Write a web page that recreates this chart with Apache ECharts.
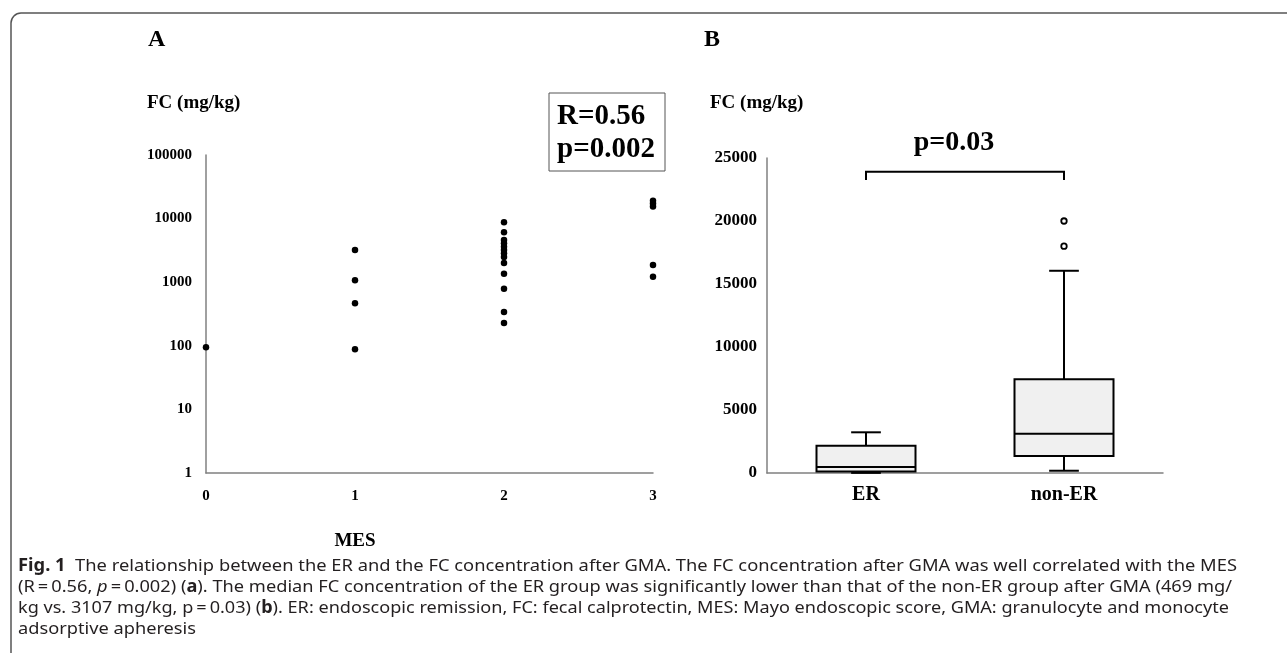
<!DOCTYPE html>
<html>
<head>
<meta charset="utf-8">
<script src="https://cdn.jsdelivr.net/npm/echarts@6/dist/echarts.min.js"></script>
<style>
  html, body { margin: 0; padding: 0; background: #fff; }
  #chart { width: 1287px; height: 653px; }
</style>
</head>
<body>
<div id="chart"></div>
<script>
// ---- panel A: FC (mg/kg) by MES, log scale ----
const mesScores = [0, 1, 2, 3];
const fcMes0 = [95];
const fcMes1 = [3200, 1070, 466, 88];
const fcMes2 = [8800, 6100, 4600, 4100, 3600, 3200, 2850, 2500, 2000, 1360, 790, 340, 228];
const fcMes3 = [19000, 17200, 15500, 1870, 1220];
const logTicks = [1, 10, 100, 1000, 10000, 100000];

// ---- panel B: box plot ER vs non-ER ----
const groups = ["ER", "non-ER"];
// [lower whisker, Q1, median, Q3, upper whisker]
const erBox = [10, 110, 469, 2170, 3230];
const nonErBox = [180, 1350, 3107, 7440, 16050];
const nonErOutliers = [20000, 18000];
const linearTicks = [0, 5000, 10000, 15000, 20000, 25000];
// bracket: [from group, to group, top value, tick end value]
const bracket = [0, 1, 23900, 23250];

const serif = "'Liberation Serif', 'Times New Roman', serif";
const sans = "'Noto Sans', 'Open Sans', sans-serif";

const scatterData = [];
[fcMes0, fcMes1, fcMes2, fcMes3].forEach((arr, i) => {
  arr.forEach((v) => scatterData.push([mesScores[i], v]));
});

// caption: measure each line so it fits the reference width
const ctx = document.createElement("canvas").getContext("2d");
const capSize = 17;
function capLine(segs, target) {
  let w = 0;
  let rich = "";
  segs.forEach(([t, s]) => {
    const weight = s === "b" ? "bold" : "normal";
    const fs = s === "i" ? "italic" : "normal";
    ctx.font = `${fs} ${weight} ${capSize}px ${sans}`;
    w += ctx.measureText(t).width;
    rich += s ? `{${s}|${t}}` : t;
  });
  return { rich, w, scale: target ? target / w : null };
}
const caption = [
  capLine([["Fig. 1", "b"], ["  The relationship between the ER and the FC concentration after GMA. The FC concentration after GMA was well correlated with the MES", ""]], 1219),
  capLine([["(R\u2009=\u20090.56, ", ""], ["p", "i"], ["\u2009=\u20090.002) (", ""], ["a", "b"], ["). The median FC concentration of the ER group was significantly lower than that of the non-ER group after GMA (469 mg/", ""]], 1214),
  capLine([["kg vs. 3107 mg/kg, p\u2009=\u20090.03) (", ""], ["b", "b"], ["). ER: endoscopic remission, FC: fecal calprotectin, MES: Mayo endoscopic score, GMA: granulocyte and monocyte", ""]], 1211),
  capLine([["adsorptive apheresis", ""]], null),
];
const capScale = (caption[0].scale + caption[1].scale + caption[2].scale) / 3;
const capY = [566, 587, 608, 629];

const capGraphics = caption.map((c, i) => ({
  type: "text",
  x: 18,
  y: capY[i],
  scaleX: c.scale || capScale,
  style: {
    text: c.rich,
    font: `${capSize}px ${sans}`,
    fill: "#231f20",
    textVerticalAlign: "middle",
    rich: {
      b: { fontWeight: "bold", fontSize: capSize, fontFamily: sans, fill: "#231f20" },
      i: { fontStyle: "italic", fontSize: capSize, fontFamily: sans, fill: "#231f20" },
    },
  },
}));

const axisGray = { color: "#808080", width: 1.5 };
const boldLabel = (size, margin) => ({
  color: "#000",
  fontFamily: serif,
  fontWeight: "bold",
  fontSize: size,
  margin: margin,
});
const frameStyle = { stroke: "#555", lineWidth: 1.5, fill: null };

const option = {
  animation: false,
  backgroundColor: "#fff",
  grid: [
    { left: 206, top: 155, width: 447, height: 318 },
    { left: 767, top: 158, width: 396, height: 315 },
  ],
  xAxis: [
    {
      gridIndex: 0,
      type: "value",
      min: 0,
      max: 3,
      interval: 1,
      axisLine: { show: true, lineStyle: axisGray },
      axisTick: { show: false },
      splitLine: { show: false },
      axisLabel: boldLabel(15, 16),
    },
    {
      gridIndex: 1,
      type: "category",
      data: groups,
      axisLine: { show: true, lineStyle: axisGray },
      axisTick: { show: false },
      axisLabel: boldLabel(20, 12),
    },
  ],
  yAxis: [
    {
      gridIndex: 0,
      type: "log",
      logBase: 10,
      min: logTicks[0],
      max: logTicks[logTicks.length - 1],
      splitNumber: logTicks.length - 1,
      axisLine: { show: true, lineStyle: axisGray },
      axisTick: { show: false },
      splitLine: { show: false },
      axisLabel: Object.assign(boldLabel(15, 14), {
        formatter: (v) => String(Math.round(v)),
      }),
    },
    {
      gridIndex: 1,
      type: "value",
      min: linearTicks[0],
      max: linearTicks[linearTicks.length - 1],
      interval: linearTicks[1] - linearTicks[0],
      axisLine: { show: true, lineStyle: axisGray },
      axisTick: { show: false },
      splitLine: { show: false },
      axisLabel: Object.assign(boldLabel(17, 10), {
        formatter: (v) => String(v),
      }),
    },
  ],
  series: [
    {
      type: "scatter",
      xAxisIndex: 0,
      yAxisIndex: 0,
      data: scatterData,
      symbolSize: 6.5,
      itemStyle: { color: "#000", opacity: 1 },
    },
    {
      type: "custom",
      xAxisIndex: 1,
      yAxisIndex: 1,
      data: [[0].concat(erBox), [1].concat(nonErBox)],
      encode: { x: 0, y: [1, 2, 3, 4, 5] },
      renderItem: (params, api) => {
        const cat = api.value(0);
        const v = [1, 2, 3, 4, 5].map((d) => api.value(d));
        const band = api.size([1, 0])[0];
        const boxW = band * 0.5;
        const capW = band * 0.15;
        const x = api.coord([cat, v[2]])[0];
        const y = (val) => api.coord([cat, val])[1];
        const st = { stroke: "#000", lineWidth: 2 };
        return {
          type: "group",
          children: [
            { type: "line", shape: { x1: x, y1: y(v[4]), x2: x, y2: y(v[3]) }, style: st },
            { type: "line", shape: { x1: x - capW / 2, y1: y(v[4]), x2: x + capW / 2, y2: y(v[4]) }, style: st },
            { type: "line", shape: { x1: x, y1: y(v[0]), x2: x, y2: y(v[1]) }, style: st },
            { type: "line", shape: { x1: x - capW / 2, y1: y(v[0]), x2: x + capW / 2, y2: y(v[0]) }, style: st },
            {
              type: "rect",
              shape: { x: x - boxW / 2, y: y(v[3]), width: boxW, height: y(v[1]) - y(v[3]) },
              style: { fill: "#f0f0f0", stroke: "#000", lineWidth: 2 },
            },
            { type: "line", shape: { x1: x - boxW / 2, y1: y(v[2]), x2: x + boxW / 2, y2: y(v[2]) }, style: st },
          ],
        };
      },
    },
    {
      type: "scatter",
      xAxisIndex: 1,
      yAxisIndex: 1,
      data: nonErOutliers.map((v) => [1, v]),
      symbolSize: 5.5,
      itemStyle: { color: "#fff", borderColor: "#000", borderWidth: 1.8, opacity: 1 },
    },
    {
      type: "custom",
      xAxisIndex: 1,
      yAxisIndex: 1,
      data: [bracket],
      encode: { x: [0, 1], y: [2, 3] },
      renderItem: (params, api) => {
        const a = api.coord([api.value(0), api.value(2)]);
        const b = api.coord([api.value(1), api.value(2)]);
        const yEnd = api.coord([api.value(0), api.value(3)])[1];
        return {
          type: "polyline",
          shape: { points: [[a[0], yEnd], a, b, [b[0], yEnd]] },
          style: { stroke: "#000", lineWidth: 2, fill: null },
        };
      },
    },
  ],
  graphic: [
    { type: "line", shape: { x1: 11, y1: 23, x2: 11, y2: 653 }, style: frameStyle },
    { type: "line", shape: { x1: 21, y1: 13, x2: 1287, y2: 13 }, style: frameStyle },
    { type: "arc", shape: { cx: 21, cy: 23, r: 10, startAngle: Math.PI, endAngle: Math.PI * 1.5 }, style: frameStyle },
    { type: "text", x: 148, y: 40, style: { text: "A", font: `bold 24px ${serif}`, fill: "#000", textVerticalAlign: "middle" } },
    { type: "text", x: 704, y: 40, style: { text: "B", font: `bold 24px ${serif}`, fill: "#000", textVerticalAlign: "middle" } },
    { type: "text", x: 147, y: 103, style: { text: "FC (mg/kg)", font: `bold 19px ${serif}`, fill: "#000", textVerticalAlign: "middle" } },
    { type: "text", x: 710, y: 103, style: { text: "FC (mg/kg)", font: `bold 19px ${serif}`, fill: "#000", textVerticalAlign: "middle" } },
    {
      type: "rect",
      shape: { x: 549, y: 93, width: 116, height: 78 },
      style: { fill: "#fff", stroke: "#555", lineWidth: 1 },
    },
    { type: "text", x: 557, y: 117, style: { text: "R=0.56", font: `bold 29px ${serif}`, fill: "#000", textVerticalAlign: "middle" } },
    { type: "text", x: 557, y: 150, style: { text: "p=0.002", font: `bold 29px ${serif}`, fill: "#000", textVerticalAlign: "middle" } },
    { type: "text", x: 954, y: 143, style: { text: "p=0.03", font: `bold 28px ${serif}`, fill: "#000", textAlign: "center", textVerticalAlign: "middle" } },
    { type: "text", x: 355, y: 541, style: { text: "MES", font: `bold 19px ${serif}`, fill: "#000", textAlign: "center", textVerticalAlign: "middle" } },
  ].concat(capGraphics),
};

const chart = echarts.init(document.getElementById("chart"));
chart.setOption(option);
window.addEventListener("resize", () => chart.resize());
</script>
</body>
</html>
